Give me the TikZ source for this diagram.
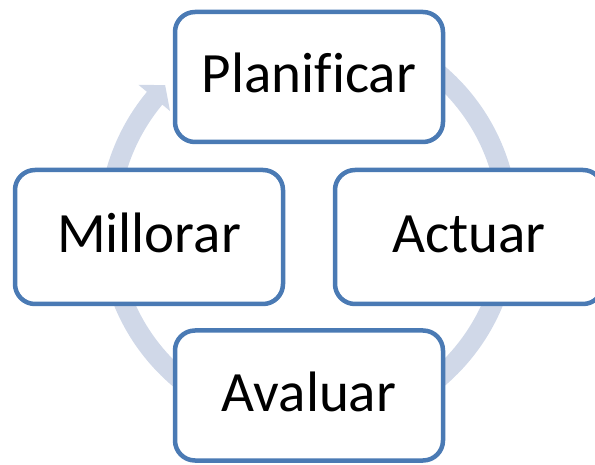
\documentclass[tikz,border=0pt]{standalone}
\usepackage{fontspec}
\setmainfont{Carlito}[Ligatures=NoCommon]
\usetikzlibrary{calc}
\definecolor{boxline}{RGB}{74,122,180}
\definecolor{cycleband}{RGB}{208,216,232}
\tikzset{
  stagebox/.style={draw=boxline, line width=4.5pt, fill=white, rounded corners=20pt,
    minimum width=268pt, inner sep=0pt, text height=32pt, text depth=0pt,
    font=\fontsize{57}{60}\selectfont, text=black},
}
\begin{document}
\begin{tikzpicture}[x=1pt,y=1pt]
  \useasboundingbox (0,0) rectangle (595,464);
  \clip (0,0) rectangle (595,464);
  % circular arrow running clockwise behind the four stages
  \coordinate (c) at (308.5,238);
  \fill[cycleband]
    ($(c)+(100:210)$) arc[start angle=100, end angle=-219.7, radius=210]
    -- ($(c)+(-219.7:221)$)
    -- ($(c)+(-224.5:201)$)
    -- ($(c)+(-219.7:180)$)
    -- ($(c)+(-219.7:190)$) arc[start angle=-219.7, end angle=100, radius=190]
    -- cycle;
  % the four stages
  \node[stagebox, minimum height=130pt] (plan) at (309,387) {Planificar};
  \node[stagebox, minimum height=134pt] (act)  at (469,227) {Actuar};
  \node[stagebox, minimum height=130pt] (eval) at (309,68.5) {Avaluar};
  \node[stagebox, minimum height=134pt] (impr) at (149,227) {Millorar};
\end{tikzpicture}
\end{document}
